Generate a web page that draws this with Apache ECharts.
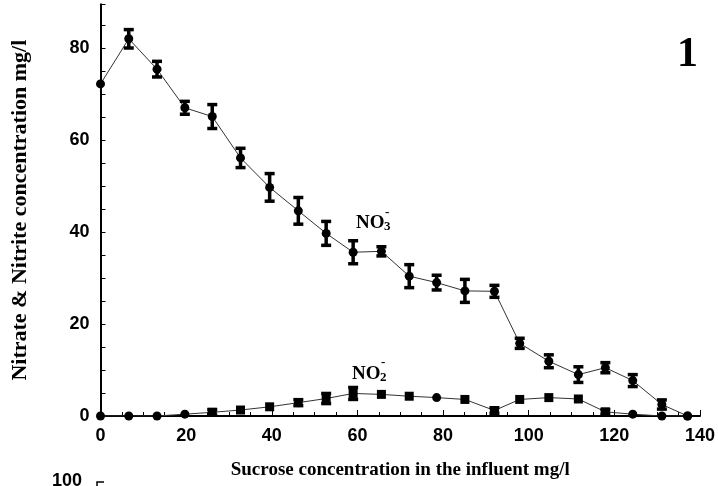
<!DOCTYPE html>
<html>
<head>
<meta charset="utf-8">
<script src="https://cdn.jsdelivr.net/npm/echarts@6/dist/echarts.min.js"></script>
<style>
html,body{margin:0;padding:0;background:#fff;}
#chart{width:718px;height:486px;}
</style>
</head>
<body>
<div id="chart"></div>
<script>
// Sucrose concentration in the influent (mg/l)
var sucrose = [0, 6.6, 13.2, 19.7, 26.1, 32.7, 39.5, 46.2, 52.7, 59.0, 65.6, 72.1, 78.5, 85.1, 92.0, 97.9, 104.7, 111.6, 117.9, 124.3, 131.1, 137.1];
// Nitrate (NO3-) concentration mg/l and error (±)
var nitrate = [72.2, 82.0, 75.4, 67.0, 65.1, 56.1, 49.7, 44.6, 39.7, 35.6, 35.8, 30.4, 29.0, 27.2, 27.1, 15.8, 11.9, 9.0, 10.5, 7.7, 2.5, 0];
var nitrateErr = [0, 2.0, 1.7, 1.4, 2.6, 2.1, 3.0, 2.9, 2.6, 2.5, 1.0, 2.5, 1.6, 2.5, 1.3, 1.1, 1.4, 1.7, 1.1, 1.3, 1.0, 0];
// Nitrite (NO2-) concentration mg/l and error (±)
var nitrite = [0, 0, 0, 0.4, 0.8, 1.3, 2.0, 2.9, 3.8, 4.9, 4.7, 4.3, 4.0, 3.6, 1.2, 3.6, 4.0, 3.7, 0.9, 0.4, 0, 0];
var nitriteErr = [0, 0, 0, 0, 0.6, 0, 0, 0.65, 1.1, 1.3, 0, 0, 0, 0, 0.6, 0, 0, 0, 0.5, 0, 0, 0];
var nitriteSymbol = ['circle','circle','circle','circle','rect','rect','rect','circle','rect','rect','rect','rect','circle','rect','rect','rect','rect','rect','rect','circle','circle','circle'];
// Axis ticks
var xTicks = [0, 20, 40, 60, 80, 100, 120, 140];
var yTickLabels = [0, 20, 40, 60, 80];

var chart = echarts.init(document.getElementById('chart'));

function pairs(xs, ys) { return xs.map(function (x, i) { return [x, ys[i]]; }); }
function errData(xs, ys, es) {
  var out = [];
  xs.forEach(function (x, i) { if (es[i] > 0) out.push([x, ys[i] - es[i], ys[i] + es[i]]); });
  return out;
}
function errRender(params, api) {
  var x = api.value(0), lo = api.value(1), hi = api.value(2);
  var p1 = api.coord([x, hi]), p2 = api.coord([x, lo]);
  var w = 5;
  var st = { stroke: '#000', lineWidth: 3.5 };
  return { type: 'group', children: [
    { type: 'line', shape: { x1: p1[0], y1: p1[1], x2: p2[0], y2: p2[1] }, style: st },
    { type: 'line', shape: { x1: p1[0] - w, y1: p1[1], x2: p1[0] + w, y2: p1[1] }, style: st },
    { type: 'line', shape: { x1: p2[0] - w, y1: p2[1], x2: p2[0] + w, y2: p2[1] }, style: st }
  ]};
}

var tickFont = { fontFamily: 'Liberation Sans', fontWeight: 'bold', fontSize: 18, color: '#000' };
var titleFont = { fontFamily: 'Liberation Serif', fontWeight: 'bold', fontSize: 19, color: '#000' };

var option = {
  animation: false,
  backgroundColor: '#fff',
  grid: { left: 100.5, right: 16.5, top: 4.3, bottom: 70, containLabel: false },
  xAxis: {
    type: 'value', min: xTicks[0], max: xTicks[xTicks.length - 1], interval: 20,
    name: 'Sucrose concentration in the influent mg/l',
    nameLocation: 'middle', nameGap: 45,
    nameTextStyle: titleFont,
    axisLine: { show: true, onZero: false, lineStyle: { color: '#000', width: 2 } },
    axisTick: { show: true, inside: true, length: 6, lineStyle: { color: '#000', width: 1 } },
    minorTick: { show: true, splitNumber: 4, length: 4, lineStyle: { color: '#000', width: 1 } },
    axisLabel: Object.assign({ margin: 11 }, tickFont),
    splitLine: { show: false }
  },
  yAxis: {
    type: 'value', min: 0, max: 89.5, interval: 5,
    name: 'Nitrate & Nitrite concentration mg/l',
    nameLocation: 'middle', nameGap: 69, nameRotate: 90,
    nameTextStyle: Object.assign({}, titleFont, { fontSize: 22 }),
    axisLine: { show: true, onZero: false, lineStyle: { color: '#000', width: 2 } },
    axisTick: { show: true, inside: true, length: 5, lineStyle: { color: '#000', width: 1 } },
    axisLabel: Object.assign({
      margin: 11,
      formatter: function (v) { return yTickLabels.indexOf(v) >= 0 ? String(v) : ''; }
    }, tickFont),
    splitLine: { show: false }
  },
  series: [
    {
      name: 'NO3-', type: 'line', data: pairs(sucrose, nitrate),
      symbol: 'circle', symbolSize: 9,
      lineStyle: { color: '#333', width: 1 }, itemStyle: { color: '#000' }, z: 3
    },
    {
      name: 'NO3- error', type: 'custom', renderItem: errRender,
      data: errData(sucrose, nitrate, nitrateErr), z: 4
    },
    {
      name: 'NO2-', type: 'line',
      data: sucrose.map(function (x, i) { return { value: [x, nitrite[i]], symbol: nitriteSymbol[i] }; }),
      symbolSize: 9,
      lineStyle: { color: '#333', width: 1 }, itemStyle: { color: '#000' }, z: 3
    },
    {
      name: 'NO2- error', type: 'custom', renderItem: errRender,
      data: errData(sucrose, nitrite, nitriteErr), z: 4
    }
  ],
  graphic: [
    { type: 'text', left: 677, top: 34, style: { text: '1', font: 'bold 42px "Liberation Serif"', fill: '#000' } },
    // NO3- label
    { type: 'text', x: 356, y: 214, style: { text: 'NO', font: 'bold 19px "Liberation Serif"', fill: '#000' } },
    { type: 'text', x: 384, y: 220, style: { text: '3', font: 'bold 13px "Liberation Serif"', fill: '#000' } },
    { type: 'text', x: 385, y: 206, style: { text: '-', font: 'bold 13px "Liberation Serif"', fill: '#000' } },
    // NO2- label
    { type: 'text', x: 352, y: 365, style: { text: 'NO', font: 'bold 19px "Liberation Serif"', fill: '#000' } },
    { type: 'text', x: 380, y: 371, style: { text: '2', font: 'bold 13px "Liberation Serif"', fill: '#000' } },
    { type: 'text', x: 381, y: 356, style: { text: '-', font: 'bold 13px "Liberation Serif"', fill: '#000' } },
    // top of next panel (cut off)
    { type: 'text', x: 52, y: 472, style: { text: '100', font: 'bold 18px "Liberation Sans"', fill: '#000' } },
    { type: 'polyline', shape: { points: [[104, 482], [97, 482], [97, 486]] }, style: { stroke: '#000', lineWidth: 1.5, fill: null } }
  ]
};
chart.setOption(option);
</script>
</body>
</html>
